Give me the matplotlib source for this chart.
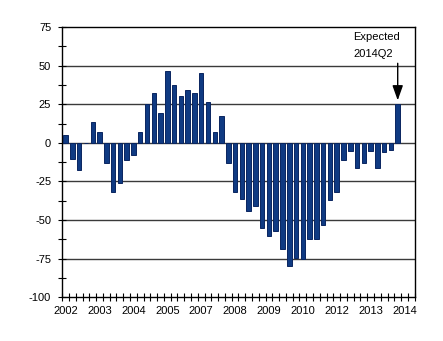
import matplotlib
matplotlib.use("Agg")
import matplotlib.pyplot as plt
import numpy as np

plt.rcParams['font.family'] = ['Liberation Sans', 'DejaVu Sans']
plt.rcParams['axes.unicode_minus'] = False

# Quarterly balance, 2002Q1 .. 2014Q2
quarters = [f"{y}Q{q}" for y in range(2002, 2015) for q in range(1, 5)][:50]
values = [
    5.3, -10.5, -17.5, 0.0,
    13.8, 7.3, -13.0, -32.0,
    -26.0, -11.0, -8.0, 7.3,
    25.0, 32.0, 19.5, 46.5,
    37.5, 30.5, 34.0, 32.5,
    45.5, 26.5, 6.7, 17.5,
    -13.0, -32.0, -36.5, -44.0,
    -41.0, -55.0, -60.0, -57.0,
    -68.5, -80.0, -74.5, -75.5,
    -62.5, -62.0, -53.0, -37.0,
    -32.0, -11.0, -5.3, -16.5,
    -13.0, -5.3, -16.5, -6.0,
    -4.5, 25.0,
]
year_labels = ["2002", "2003", "2004", "2005", "2007", "2008",
               "2009", "2010", "2012", "2013", "2014"]
y_ticks = [75, 50, 25, 0, -25, -50, -75, -100]
n_slots = 52  # 2002Q1 .. 2014Q4

fig = plt.figure(figsize=(4.43, 3.41), dpi=100)
ax = fig.add_axes([0.1406, 0.1282, 0.7954, 0.7926])

x = np.arange(len(values))
ax.bar(x, values, width=0.66, color='#0f3a82', edgecolor='#0a2560',
       linewidth=0.7, zorder=3)

ax.set_xlim(-0.5, n_slots - 0.5)
ax.set_ylim(-100, 75)

# horizontal grid
for v in y_ticks[1:-1]:
    ax.axhline(v, color='#3a3a3a', linewidth=1.0, zorder=1)

for s in ax.spines.values():
    s.set_color('black')
    s.set_linewidth(1.0)

# y axis ticks
ax.set_yticks(y_ticks)
ax.set_yticklabels([str(v) for v in y_ticks])
ax.set_yticks(np.arange(-87.5, 75, 25), minor=True)
ax.tick_params(axis='y', which='both', direction='inout', length=6,
               width=0.8, labelsize=8, pad=5, colors='black')

# x axis: ticks at quarter boundaries, year labels every fifth quarter
ax.set_xticks(np.arange(0, n_slots, 5))
ax.set_xticklabels(year_labels)
ax.set_xticks(np.arange(-0.5, n_slots, 1), minor=True)
ax.tick_params(axis='x', which='major', length=0, labelsize=8, pad=6,
               colors='black')
ax.tick_params(axis='x', which='minor', direction='inout', length=6,
               width=0.8)

# annotation for the expected value
last = len(values) - 1
ax.text(last - 6.6, 68.5, "Expected", fontsize=8, va='center', ha='left')
ax.text(last - 6.6, 57.3, "2014Q2", fontsize=8, va='center', ha='left')
ax.annotate("", xy=(last, values[-1] + 2.5), xytext=(last, 51.5),
            arrowprops=dict(arrowstyle='-|>,head_length=0.9,head_width=0.32',
                            color='black', lw=1.0, shrinkA=0, shrinkB=0),
            zorder=5)

fig.savefig("out.png", dpi=100)
